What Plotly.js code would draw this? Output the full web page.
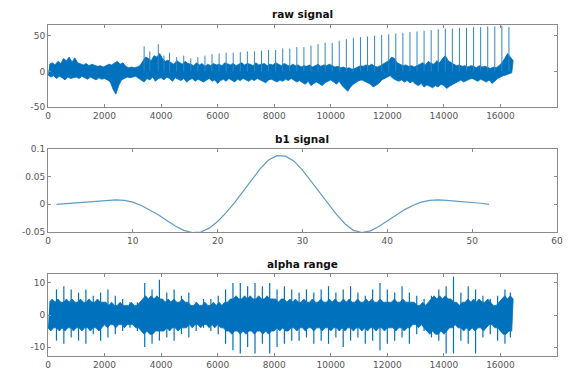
<!DOCTYPE html>
<html>
<head>
<meta charset="utf-8">
<script src="https://cdn.plot.ly/plotly-3.0.1.min.js"></script>
<style>html,body{margin:0;padding:0;background:#fff;}#chart{width:571px;height:376px;}</style>
</head>
<body>
<div id="chart"></div>
<script>
// ---------- DATA ----------
// raw signal: per-100-sample block max / min of the dense band
const rawBlock = 100;
const rawHi = [
  10,12,9,14,11,18,15,20,13,19,
  12,10,9,11,8,10,9,7,8,6,
  8,10,9,12,14,10,12,7,5,6,
  5,6,8,14,
  20,18,15,22,20,25,18,14,16,12,10,15,12,10,14,11,
  10,8,12,9,11,7,10,8,11,9,10,8,12,10,9,11,8,10,12,9,
  11,10,8,12,9,10,11,8,10,9,12,10,8,11,9,7,10,8,9,6,
  8,7,9,6,8,10,7,9,8,10,
  8,6,7,5,6,4,5,3,4,6,8,7,9,8,10,7,6,8,10,12,
  15,20,18,12,10,8,9,7,8,6,
  8,10,12,9,14,11,10,15,12,18,22,15,12,10,8,9,7,8,6,8,
  7,5,8,6,7,5,4,6,5,8,12,18,25,20,15
];
const rawLo = [
  -5,-8,-6,-10,-7,-9,-12,-8,-10,-9,
  -8,-10,-7,-9,-11,-8,-10,-12,-9,-11,
  -10,-12,-15,-25,-32,-20,-12,-10,-8,-9,
  -8,-7,-9,-12,
  -15,-10,-12,-8,-14,-10,-9,-12,-8,-10,-14,-9,-11,-13,-10,-15,
  -12,-10,-14,-11,-13,-15,-12,-10,-14,-12,-17,-13,-11,-14,-10,-12,-15,-11,-13,-10,
  -12,-14,-11,-13,-10,-12,-14,-16,-12,-11,-13,-15,-12,-14,-11,-13,-10,-12,-15,-13,
  -16,-18,-14,-20,-17,-15,-18,-20,-16,-14,
  -12,-15,-18,-14,-20,-24,-28,-22,-18,-15,-13,-12,-14,-16,-18,-22,-20,-17,-12,-10,
  -8,-6,-10,-12,-14,-12,-15,-13,-16,-14,
  -18,-20,-17,-22,-19,-21,-23,-20,-22,-18,-20,-24,-21,-19,-16,-14,-12,-15,-13,-11,
  -10,-12,-14,-11,-13,-15,-12,-17,-14,-10,-8,-6,-5,-4,-2
];
// raw signal: periodic spikes (sample position, peak value)
const rawSpikeX = [3400,3600,3900,4100,4300,4550,4800,5050,5300,5550,5800,6050,6300,6550,6800,7050,7300,7550,7800,8050,8300,8550,8800,9050,9300,9550,9800,10050,10300,10550,10800,11050,11300,11550,11800,12050,12300,12550,12800,13050,13300,13550,13800,14050,14300,14550,14800,15050,15300,15550,15800,16050,16300];
const rawSpikeY = [35,28,38,22,26,20,22,18,20,22,24,25,26,26,27,28,28,29,30,30,32,32,34,34,36,38,40,40,43,45,47,48,49,50,51,52,53,54,55,56,57,58,59,60,60,61,61,62,62,63,63,64,62];

// b1 signal
const b1X = [1,2,3,4,5,6,7,8,9,10,11,12,13,14,15,16,17,18,19,20,21,22,23,24,25,26,27,28,29,30,31,32,33,34,35,36,37,38,39,40,41,42,43,44,45,46,47,48,49,50,51,52];
const b1Y = [0,0.001,0.002,0.003,0.005,0.006,0.007,0.008,0.007,0.004,-0.002,-0.010,-0.019,-0.029,-0.039,-0.047,-0.051,-0.050,-0.043,-0.031,-0.015,0.003,0.023,0.044,0.064,0.080,0.088,0.087,0.078,0.062,0.042,0.021,0.001,-0.018,-0.035,-0.047,-0.051,-0.048,-0.040,-0.030,-0.020,-0.010,-0.002,0.004,0.007,0.008,0.007,0.006,0.005,0.003,0.002,0];

// alpha range: core band per-100-sample block max / min
const alphaBlock = 100;
const alphaHi = [
  4,5,4,5,4,4,5,4,5,4, 4,5,4,4,5,4,4,5,4,4, 4,3,4,3,3,4,3,3,3,4,
  3,3,4,5,6,5,6,5,6,5, 5,4,5,4,5,4,4,5,4,4, 3,3,4,3,3,4,3,3,4,3,
  4,3,4,4,5,5,6,5,5,6, 5,6,5,5,6,5,5,6,5,5, 5,4,5,5,4,5,4,5,4,4,
  5,4,4,5,4,4,5,4,4,5, 4,5,4,4,5,4,5,4,4,5, 4,4,5,4,5,4,4,5,4,4,
  4,4,5,4,4,5,4,4,4,4, 3,3,4,3,4,5,6,5,6,5, 6,5,5,4,4,3,4,4,5,4,
  5,4,5,4,4,5,4,3,3,4, 5,6,5,6,5
];
const alphaLo = [
  -4,-5,-4,-4,-5,-4,-5,-4,-4,-5, -4,-4,-5,-4,-4,-5,-4,-4,-5,-4, -3,-4,-3,-3,-4,-3,-3,-4,-3,-3,
  -3,-4,-4,-5,-6,-5,-6,-6,-5,-5, -5,-5,-4,-5,-4,-4,-5,-4,-4,-4, -3,-4,-3,-3,-4,-3,-3,-4,-3,-4,
  -3,-4,-4,-5,-5,-6,-5,-5,-6,-5, -6,-5,-5,-6,-5,-5,-6,-5,-6,-5, -5,-4,-5,-4,-5,-5,-4,-4,-5,-4,
  -4,-5,-4,-4,-5,-4,-4,-5,-4,-4, -5,-4,-4,-5,-4,-5,-4,-4,-5,-4, -4,-5,-4,-5,-4,-4,-5,-4,-4,-5,
  -4,-4,-4,-5,-4,-4,-5,-4,-4,-3, -3,-4,-3,-4,-5,-6,-5,-6,-6,-5, -6,-5,-4,-4,-3,-4,-4,-5,-4,-5,
  -4,-5,-4,-4,-5,-4,-3,-3,-4,-4, -5,-6,-6,-5,-5
];
// alpha range: spikes (position, top, bottom)
const alphaSpikeX = [300,560,820,1080,1340,1600,1860,2120,2380,2640,2900,3160,3420,3680,3940,4200,4460,4720,4980,5240,5500,5760,6020,6280,6540,6800,7060,7320,7580,7840,8100,8360,8620,8880,9140,9400,9660,9920,10180,10440,10700,10960,11220,11480,11740,12000,12260,12520,12780,13040,13300,13560,13820,14080,14340,14600,14860,15120,15380,15640,15900,16160,16350];
const alphaSpikeTop = [8,9,8,7,8,6,7,8,6,5,4,4,10,8,11,7,8,6,7,4,5,5,6,8,10,10,9,10,9,10,8,9,8,7,8,7,8,9,7,8,9,7,6,8,10,8,7,9,7,6,5,6,8,9,12,7,9,8,6,5,6,8,7];
const alphaSpikeBot = [-8,-9,-7,-8,-9,-6,-8,-7,-6,-5,-4,-5,-10,-9,-8,-7,-8,-6,-7,-5,-4,-5,-6,-9,-11,-12,-10,-12,-9,-12,-10,-9,-8,-8,-7,-9,-8,-9,-7,-10,-8,-7,-9,-8,-11,-9,-8,-7,-9,-6,-5,-7,-8,-12,-12,-8,-9,-12,-7,-6,-8,-9,-7];

// ---------- BUILD ----------
const BLUE = '#0072BD';
function band(hi, lo, blk) {
  // filled envelope polygon: upper edge forward, lower edge backward
  const x = [], y = [];
  for (let i = 0; i < hi.length; i++) { x.push(i * blk + blk / 2); y.push(hi[i]); }
  for (let i = lo.length - 1; i >= 0; i--) { x.push(i * blk); y.push(lo[i]); }
  return {x, y};
}
function spikes(xs, tops, bots) {
  const x = [], y = [];
  for (let k = 0; k < xs.length; k++) {
    x.push(xs[k], xs[k], null);
    y.push(bots ? bots[k] : 0, tops[k], null);
  }
  return {x, y};
}
const rb = band(rawHi, rawLo, rawBlock);
const rs = spikes(rawSpikeX, rawSpikeY, null);
const ab = band(alphaHi, alphaLo, alphaBlock);
const as = spikes(alphaSpikeX, alphaSpikeTop, alphaSpikeBot);

const data = [
  {x: rb.x, y: rb.y, type: 'scatter', mode: 'lines', fill: 'toself', fillcolor: BLUE, line: {color: BLUE, width: 0.8}, xaxis: 'x', yaxis: 'y', hoverinfo: 'skip'},
  {x: rs.x, y: rs.y, type: 'scatter', mode: 'lines', line: {color: '#2f86c6', width: 1}, xaxis: 'x', yaxis: 'y', connectgaps: false, hoverinfo: 'skip'},
  {x: b1X, y: b1Y, type: 'scatter', mode: 'lines', line: {color: '#5f9cc5', width: 1.2}, xaxis: 'x2', yaxis: 'y2'},
  {x: ab.x, y: ab.y, type: 'scatter', mode: 'lines', fill: 'toself', fillcolor: BLUE, line: {color: BLUE, width: 0.8}, xaxis: 'x3', yaxis: 'y3', hoverinfo: 'skip'},
  {x: as.x, y: as.y, type: 'scatter', mode: 'lines', line: {color: BLUE, width: 1.2}, xaxis: 'x3', yaxis: 'y3', connectgaps: false, hoverinfo: 'skip'}
];

const W = 571, H = 376;
const xDom = [48 / W, 557 / W];
function yDom(top, bottom) { return [1 - bottom / H, 1 - top / H]; }
const tickFont = {family: 'DejaVu Sans, Arial, sans-serif', size: 9, color: '#555555'};
function ax(extra) {
  return Object.assign({
    showline: true, mirror: 'ticks', linecolor: '#8a8a8a', linewidth: 1,
    ticks: 'inside', ticklen: 3, tickcolor: '#8a8a8a', tickwidth: 1,
    showgrid: false, zeroline: false, tickfont: tickFont, fixedrange: true
  }, extra);
}
const bigX = [0,2000,4000,6000,8000,10000,12000,14000,16000,18000];
const bigXT = ['0','2000','4000','6000','8000','10000','12000','14000','16000','18000'];

const layout = {
  width: W, height: H,
  margin: {l: 0, r: 0, t: 0, b: 0},
  paper_bgcolor: '#ffffff', plot_bgcolor: '#ffffff',
  showlegend: false,
  xaxis: ax({domain: xDom, range: [0, 18000], tickvals: bigX, ticktext: bigXT, anchor: 'y'}),
  yaxis: ax({domain: yDom(25, 107), range: [-50, 65], tickvals: [-50, 0, 50], ticktext: ['-50', '0', '50'], anchor: 'x'}),
  xaxis2: ax({domain: xDom, range: [0, 60], tickvals: [0,10,20,30,40,50,60], anchor: 'y2'}),
  yaxis2: ax({domain: yDom(149, 232), range: [-0.05, 0.1], tickvals: [-0.05, 0, 0.05, 0.1], ticktext: ['-0.05', '0', '0.05', '0.1'], anchor: 'x2'}),
  xaxis3: ax({domain: xDom, range: [0, 18000], tickvals: bigX, ticktext: bigXT, anchor: 'y3'}),
  yaxis3: ax({domain: yDom(274, 356), range: [-12.8, 12.8], tickvals: [-10, 0, 10], ticktext: ['-10', '0', '10'], anchor: 'x3'}),
  annotations: [
    {text: '<b>raw signal</b>', x: 302 / W, y: 1 - 14 / H},
    {text: '<b>b1 signal</b>', x: 302 / W, y: 1 - 139 / H},
    {text: '<b>alpha range</b>', x: 302 / W, y: 1 - 264 / H}
  ].map(a => Object.assign(a, {xref: 'paper', yref: 'paper', showarrow: false, xanchor: 'center', yanchor: 'middle',
    font: {family: 'DejaVu Sans, Arial, sans-serif', size: 10.5, color: '#111'}}))
};

Plotly.newPlot('chart', data, layout, {staticPlot: true, displayModeBar: false});
</script>
</body>
</html>
